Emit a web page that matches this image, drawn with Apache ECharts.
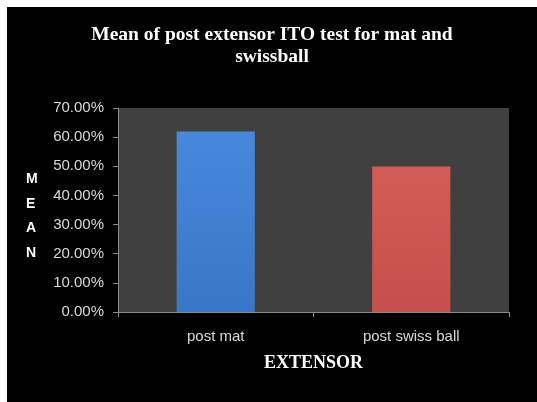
<!DOCTYPE html>
<html>
<head>
<meta charset="utf-8">
<script src="https://cdn.jsdelivr.net/npm/echarts@6/dist/echarts.min.js"></script>
<style>
  html, body { margin: 0; padding: 0; background: #ffffff; width: 537px; height: 402px; overflow: hidden; }
  #chart { position: absolute; left: 7px; top: 7px; width: 530px; height: 395px; background: #000000; }
</style>
</head>
<body>
<div id="chart"></div>
<script>
// Groups on the x axis
const categories = ['post mat', 'post swiss ball'];
// Mean score (%) for each group
const meanValues = [61.9, 49.9];
// Value axis range and step (%)
const yMin = 0;
const yMax = 70;
const yStep = 10;

const chart = echarts.init(document.getElementById('chart'), null, { renderer: 'canvas' });

const barColors = [
  ['#4788da', '#3a76c8'],
  ['#d45c58', '#c54f4c']
];

chart.setOption({
  backgroundColor: '#000000',
  animation: false,
  title: {
    text: 'Mean of post extensor ITO test for mat and\nswissball',
    left: 'center',
    top: 12,
    textStyle: {
      color: '#ffffff',
      fontFamily: 'Liberation Serif',
      fontWeight: 'bold',
      fontSize: 19.5,
      lineHeight: 22
    }
  },
  graphic: [{
    type: 'text',
    left: 19,
    top: 160,
    style: {
      text: 'M\nE\nA\nN',
      fill: '#ffffff',
      font: 'bold 14px "Liberation Sans"',
      lineHeight: 24.5,
      align: 'center'
    }
  }],
  grid: {
    left: 111,
    right: 28,
    top: 101,
    bottom: 90,
    show: true,
    backgroundColor: '#404040',
    borderWidth: 0
  },
  xAxis: {
    type: 'category',
    data: categories,
    name: 'EXTENSOR',
    nameLocation: 'middle',
    nameGap: 42,
    nameTextStyle: {
      color: '#ffffff',
      fontFamily: 'Liberation Serif',
      fontWeight: 'bold',
      fontSize: 18
    },
    axisLine: { lineStyle: { color: '#8a8a8a', width: 1 } },
    axisTick: { show: true, length: 5, lineStyle: { color: '#8a8a8a' } },
    axisLabel: {
      color: '#d9d9d9',
      fontFamily: 'Liberation Sans',
      fontSize: 15,
      margin: 17
    }
  },
  yAxis: {
    type: 'value',
    min: yMin,
    max: yMax,
    interval: yStep,
    axisLine: { show: true, lineStyle: { color: '#8a8a8a', width: 1 } },
    axisTick: { show: true, length: 5, lineStyle: { color: '#8a8a8a' } },
    splitLine: { show: false },
    axisLabel: {
      color: '#d9d9d9',
      fontFamily: 'Liberation Sans',
      fontSize: 15,
      margin: 14,
      formatter: v => v.toFixed(2) + '%'
    }
  },
  series: [{
    type: 'bar',
    barWidth: '40%',
    data: meanValues.map((v, i) => ({
      value: v,
      itemStyle: {
        color: new echarts.graphic.LinearGradient(0, 0, 0, 1, [
          { offset: 0, color: barColors[i][0] },
          { offset: 1, color: barColors[i][1] }
        ])
      }
    }))
  }]
});
</script>
</body>
</html>
